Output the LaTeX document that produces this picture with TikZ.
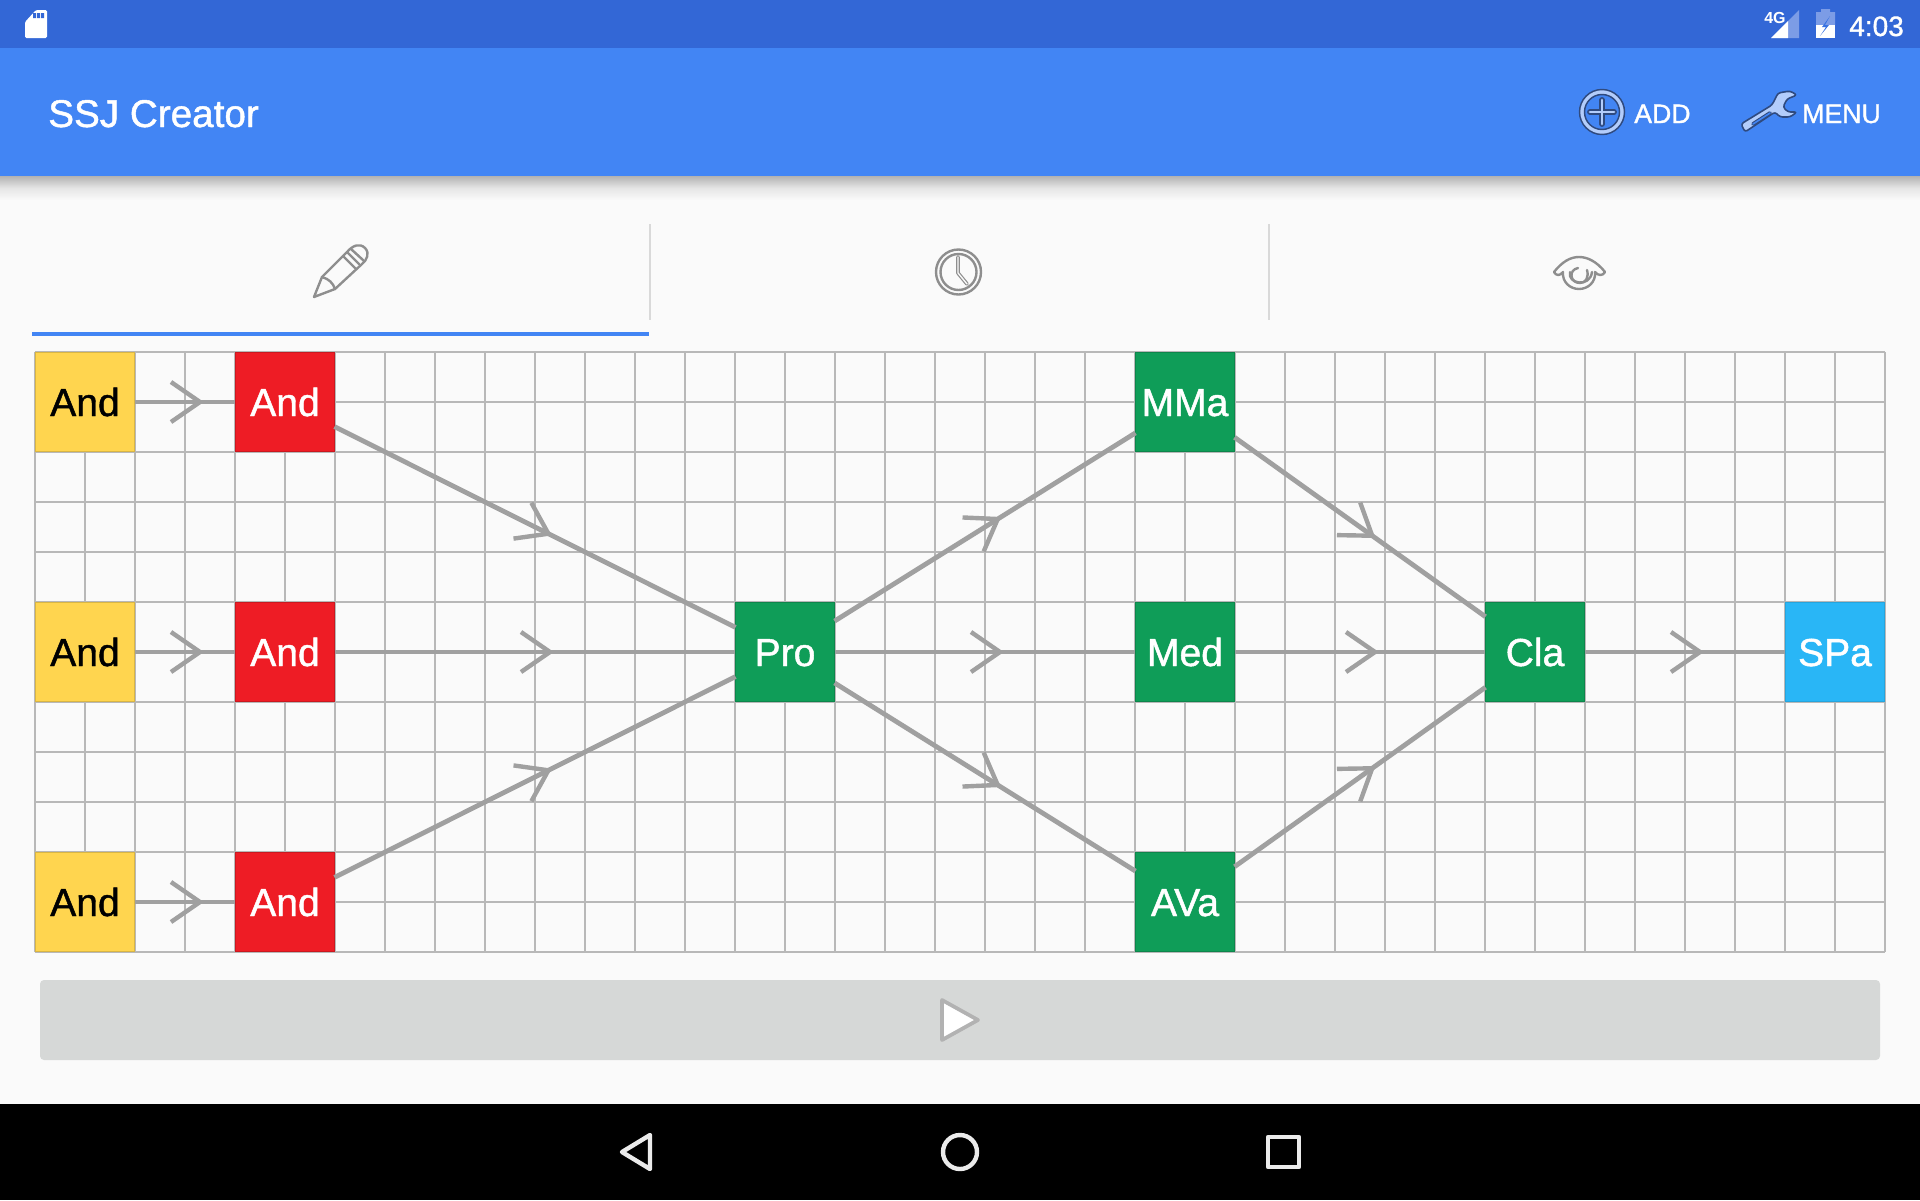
\documentclass[tikz,border=0pt]{standalone}
\usepackage{fontspec}
\setmainfont{Liberation Sans}
\newfontfamily\medfont[FakeBold=1.2]{Liberation Sans}
\usetikzlibrary{decorations.markings}
\definecolor{statusblue}{HTML}{3367D6}
\definecolor{appblue}{HTML}{4285F4}
\definecolor{pagebg}{HTML}{FAFAFA}
\definecolor{gridcol}{HTML}{B8B8B8}
\definecolor{edgecol}{HTML}{A0A0A0}
\definecolor{iconcol}{HTML}{8E8E8E}
\definecolor{divcol}{HTML}{D9D9D9}
\definecolor{btncol}{HTML}{D6D8D7}
\definecolor{lightblue}{HTML}{B3CDFB}
\definecolor{darkblue}{HTML}{2F4A7F}
\definecolor{faintblue}{HTML}{7C9CE6}
\definecolor{yellowbox}{HTML}{FFD54F}
\definecolor{redbox}{HTML}{EE1C25}
\definecolor{greenbox}{HTML}{0F9D58}
\definecolor{bluebox}{HTML}{29B6F6}
\newcommand{\pxfont}[1]{\fontsize{#1}{#1}\selectfont}
\tikzset{
  x=0.75pt,y=-0.75pt,
  cellbox/.style={rectangle,minimum size=74.3pt,inner sep=0pt,outer sep=0pt,line width=0.7pt,
    font=\medfont\pxfont{29.3},text height=21pt,text depth=0pt},
  srcbox/.style={cellbox,fill=yellowbox,draw=yellowbox!85!black,text=black},
  inbox/.style={cellbox,fill=redbox,draw=redbox!85!black,text=white},
  procbox/.style={cellbox,fill=greenbox,draw=greenbox!85!black,text=white},
  sinkbox/.style={cellbox,fill=bluebox,draw=bluebox!90!black,text=white},
  gridline/.style={draw=gridcol,line width=1.4pt},
  flow/.style={draw=edgecol,line width=3.6pt,postaction={decorate},
    decoration={markings,mark=at position 0.5 with {
      \draw[edgecol,line width=3.3pt,line cap=butt,line join=miter] (-14,20) -- (15,0) -- (-14,-20);}}},
  iconline/.style={draw=iconcol,line width=1.8pt,line join=round,line cap=round},
  navicon/.style={draw=white!92!black,line width=3.3pt,line join=round},
  bartext/.style={text=white,inner sep=0pt,anchor=base west},
}
\begin{document}
\begin{tikzpicture}
\useasboundingbox (0,0) rectangle (1920,1200);
\fill[pagebg] (0,0) rectangle (1920,1200);
% bars
\fill[top color=black!30,bottom color=pagebg,middle color=black!10] (0,176) rectangle (1920,200);
\fill[statusblue] (0,0) rectangle (1920,48);
\fill[appblue] (0,48) rectangle (1920,176);
\fill[black] (0,1104) rectangle (1920,1200);
% status icons
\fill[white,rounded corners=1pt] (25,22) -- (36,10) -- (47,10) -- (47,38) -- (25,38) -- cycle;
\fill[statusblue] (33,13) rectangle (36,18) (37,13) rectangle (40,18) (41,13) rectangle (44,18);
\node[bartext,font=\bfseries\pxfont{12}] (fourg) at (1764,23) {4G};
\fill[faintblue] (1771,38) -- (1799,10) -- (1799,38) -- cycle;
\fill[white] (1771,38) -- (1788,21) -- (1788,38) -- cycle;
\fill[faintblue] (1816,12) -- (1821,12) -- (1821,9) -- (1830,9) -- (1830,12) -- (1835,12) -- (1835,25) -- (1816,25) -- cycle;
\fill[white] (1816,25) rectangle (1835,38);
\fill[statusblue!60!appblue] (1830,16) -- (1822,27) -- (1826,27) -- (1820,36) -- (1829,25) -- (1825,25) -- cycle;
\node[bartext,font=\medfont\pxfont{21}] (clock) at (1849,36) {4:03};
% app bar
\node[bartext,font=\medfont\pxfont{29}] (title) at (48,127) {SSJ Creator};
\filldraw[fill=lightblue,draw=darkblue,line width=1.1pt] (1602,112) circle[radius=22.5];
\filldraw[fill=appblue,draw=darkblue,line width=1.1pt] (1602,112) circle[radius=17.5];
\draw[darkblue,line width=4.4pt,line cap=round] (1590,112) -- (1614,112) (1602,100) -- (1602,124);
\draw[lightblue,line width=2.2pt,line cap=round] (1590,112) -- (1614,112) (1602,100) -- (1602,124);
\node[bartext,font=\medfont\pxfont{20}] (addlabel) at (1634,123) {ADD};
\filldraw[fill=lightblue,draw=darkblue,line width=1.2pt,line join=round,rounded corners=2pt]
  (1741,124) -- (1772,105) -- (1778,93) -- (1790,91) -- (1797,95) -- (1787,99) -- (1783,107) -- (1788,112) -- (1797,112) -- (1790,117) -- (1780,117) -- (1775,112) -- (1745,132) -- cycle;
\draw[darkblue,line width=2.8pt,line cap=round] (1753,124) -- (1770,113);
\draw[appblue,line width=1.2pt,line cap=round] (1753,124) -- (1770,113);
\node[bartext,font=\medfont\pxfont{20}] (menulabel) at (1802,123) {MENU};
% tabs
\fill[appblue] (32,332) rectangle (649,336);
\draw[divcol,line width=1.5pt] (650,224) -- (650,320) (1269,224) -- (1269,320);
% pencil
\draw[iconline] (314,297) -- (322,277) -- (347,252) .. controls (353,245) and (360,243) .. (365,248) .. controls (370,253) and (367,260) .. (362,264) -- (335,289) -- cycle;
\draw[iconline] (322,277) .. controls (329,279) and (333,283) .. (335,289);
\draw[iconline] (343,256) -- (355,268) (347,252) -- (359,264) (351,249) -- (363,260);
% clock
\draw[iconline] (958.5,272) circle[radius=22.5] (958.5,272) circle[radius=18];
\draw[iconcol,line width=2.8pt,line join=round,line cap=round] (958,257) -- (958,273) -- (967,284);
\draw[pagebg,line width=1pt,line join=round,line cap=round] (958,257) -- (958,273) -- (967,284);
% eye
\draw[iconline] (1554,272) .. controls (1562,262) and (1570,257) .. (1579,257) .. controls (1588,257) and (1597,262) .. (1605,272) .. controls (1603,276) and (1598,276) .. (1595,272) .. controls (1596,282) and (1588,289) .. (1579,289) .. controls (1570,289) and (1562,282) .. (1563,272) .. controls (1560,276) and (1556,276) .. (1554,272) -- cycle;
\draw[iconline] (1570,272) .. controls (1567,284) and (1590,288) .. (1592,272);
\draw[iconline] (1578,268) .. controls (1568,270) and (1570,283) .. (1580,283) .. controls (1586,283) and (1589,277) .. (1587,270);
% play button
\fill[btncol,rounded corners=3pt] (40,980) rectangle (1880,1060);
\filldraw[fill=white,draw=white!70!black,line width=2.8pt,line join=round] (942,1000) -- (978,1020) -- (942,1040) -- cycle;
% nav icons
\draw[navicon] (622,1152) -- (650,1135) -- (650,1169) -- cycle;
\draw[navicon] (960,1152) circle[radius=17];
\draw[navicon] (1268,1137) rectangle (1299,1167);
% grid
\foreach \i in {0,...,37} {\draw[gridline] ({35+50*\i},352) -- ({35+50*\i},952);}
\foreach \j in {0,...,12} {\draw[gridline] (35,{352+50*\j}) -- (1885,{352+50*\j});}
% nodes
\node[srcbox] (y1) at (85,402) {And};
\node[srcbox] (y2) at (85,652) {And};
\node[srcbox] (y3) at (85,902) {And};
\node[inbox] (r1) at (285,402) {And};
\node[inbox] (r2) at (285,652) {And};
\node[inbox] (r3) at (285,902) {And};
\node[procbox] (pro) at (785,652) {Pro};
\node[procbox] (mma) at (1185,402) {MMa};
\node[procbox] (med) at (1185,652) {Med};
\node[procbox] (ava) at (1185,902) {AVa};
\node[procbox] (cla) at (1535,652) {Cla};
\node[sinkbox] (spa) at (1835,652) {SPa};
% connectors
\draw[flow] (y1) -- (r1);
\draw[flow] (y2) -- (r2);
\draw[flow] (y3) -- (r3);
\draw[flow] (r1) -- (pro);
\draw[flow] (r2) -- (pro);
\draw[flow] (r3) -- (pro);
\draw[flow] (pro) -- (mma);
\draw[flow] (pro) -- (med);
\draw[flow] (pro) -- (ava);
\draw[flow] (mma) -- (cla);
\draw[flow] (med) -- (cla);
\draw[flow] (ava) -- (cla);
\draw[flow] (cla) -- (spa);
\end{tikzpicture}
\end{document}
